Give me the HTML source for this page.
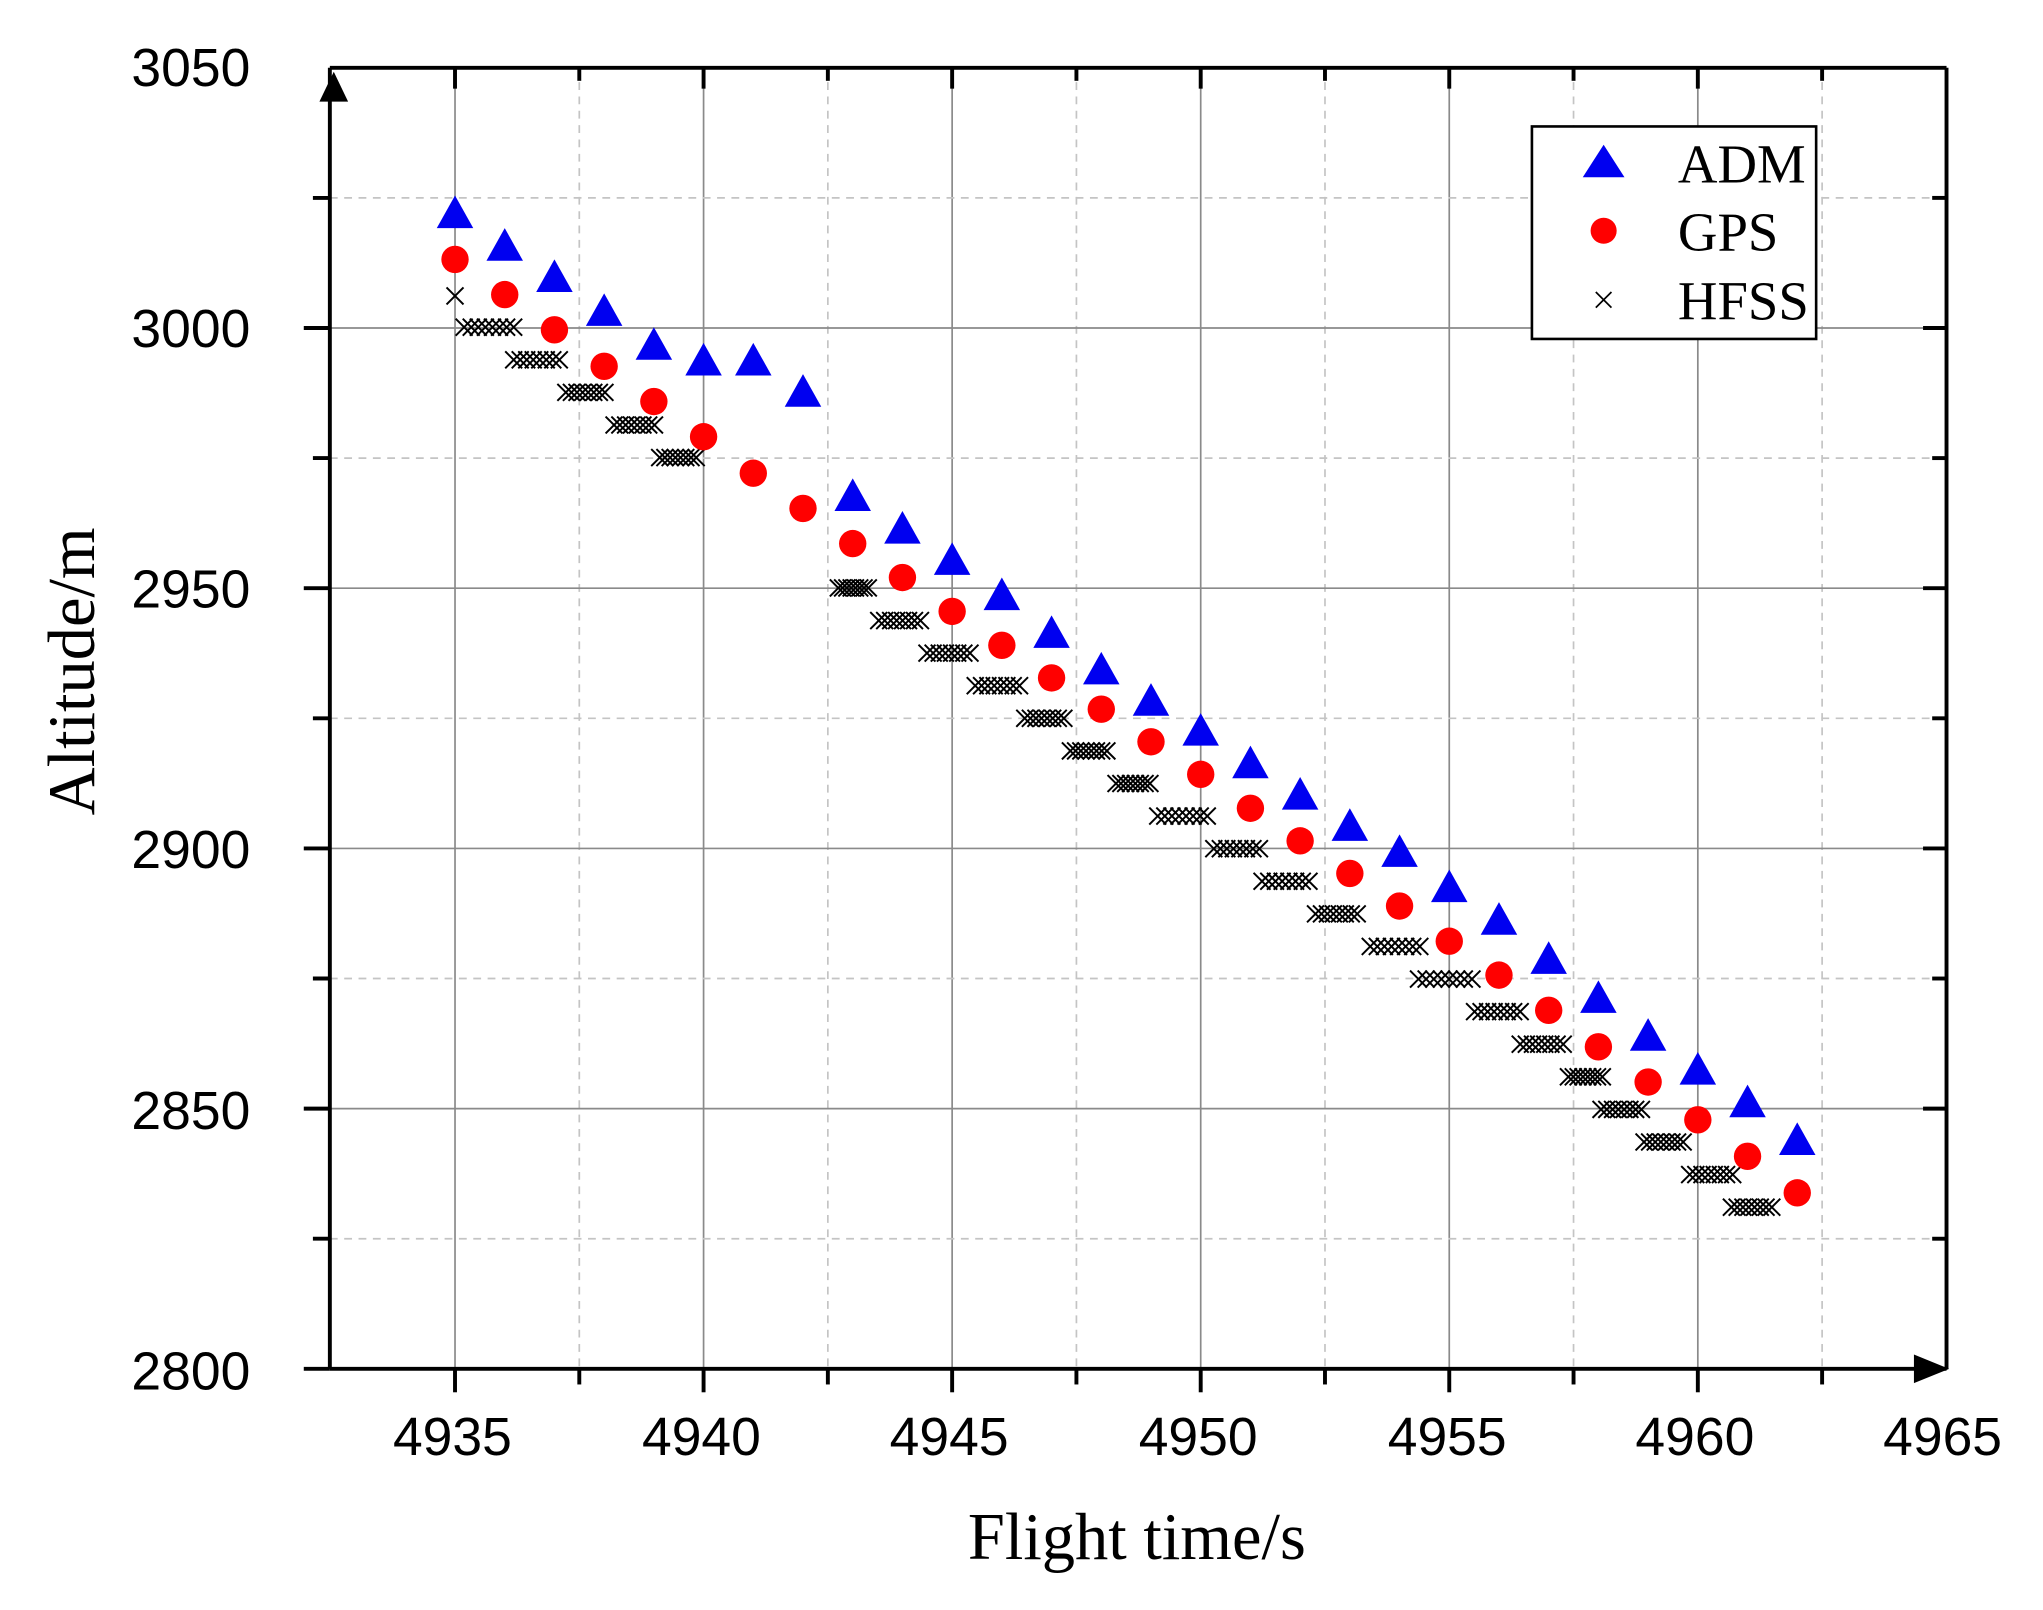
<!DOCTYPE html>
<html><head><meta charset="utf-8"><style>html,body{margin:0;padding:0;background:#fff}svg{display:block}</style></head>
<body>
<svg id="s" width="2043" height="1610" viewBox="0 0 1567 1235" preserveAspectRatio="none" xmlns="http://www.w3.org/2000/svg">
<rect width="1567" height="1235" fill="#fff"/>
<g id="grid"></g>
<g id="data"></g>
<g stroke="#000" stroke-width="3" fill="none">
<line x1="253" y1="52" x2="1493" y2="52"/>
<line x1="253" y1="52" x2="253" y2="1050"/>
<line x1="253" y1="1050" x2="1493" y2="1050"/>
<line x1="1493" y1="52" x2="1493" y2="1050"/>
</g>
<g id="ticks" stroke="#000" stroke-width="3"></g>
<polygon points="256,55 245,78 267,78" fill="#000"/>
<polygon points="1495,1050 1468,1039 1468,1061" fill="#000"/>
<g font-family="Liberation Sans, Arial, sans-serif" font-size="41" fill="#000" text-anchor="end">
<text x="192" y="66">3050</text>
<text x="192" y="266">3000</text>
<text x="192" y="466">2950</text>
<text x="192" y="666">2900</text>
<text x="192" y="866">2850</text>
<text x="192" y="1066">2800</text>
</g>
<g font-family="Liberation Sans, Arial, sans-serif" font-size="41" fill="#000" text-anchor="middle">
<text x="347" y="1116">4935</text>
<text x="538" y="1116">4940</text>
<text x="728" y="1116">4945</text>
<text x="919" y="1116">4950</text>
<text x="1110" y="1116">4955</text>
<text x="1300" y="1116">4960</text>
<text x="1490" y="1116">4965</text>
</g>
<text x="872" y="1196" font-family="Liberation Serif, Times New Roman, serif" font-size="51" text-anchor="middle">Flight time/s</text>
<text transform="translate(72,515) rotate(-90)" font-family="Liberation Serif, Times New Roman, serif" font-size="51" text-anchor="middle">Altitude/m</text>
<rect x="1175" y="97" width="218" height="163" fill="#fff" stroke="#000" stroke-width="2"/>
<polygon points="1230,111 1214,136 1246,136" fill="#0000f0"/>
<circle cx="1230" cy="177" r="10" fill="#f00"/>
<g stroke="#000" stroke-width="1.3"><line x1="1224" y1="224" x2="1236" y2="236"/><line x1="1236" y1="224" x2="1224" y2="236"/></g>
<g font-family="Liberation Serif, Times New Roman, serif" font-size="42" fill="#000">
<text x="1287" y="140">ADM</text>
<text x="1287" y="192">GPS</text>
<text x="1287" y="245">HFSS</text>
</g>
</svg>
<script>
var NS="http://www.w3.org/2000/svg";
function el(p,t,a){var e=document.createElementNS(NS,t);for(var k in a)e.setAttribute(k,a[k]);document.getElementById(p).appendChild(e);return e;}
function X(t){return 349+(t-4935)*38.13;}
function Y(v){return 52+(3050-v)*3.992;}
for(var t=4932.5;t<=4965;t+=2.5){var x=X(t);if(x<=254||x>=1492)continue;var maj=(Math.abs((t-4935)%5)<0.01);
el("grid","line",{x1:x,y1:52,x2:x,y2:1050,stroke:maj?"#8a8a8a":"#c4c4c4","stroke-width":1.3,"stroke-dasharray":maj?"":"6,5"});
el("ticks","line",{x1:x,y1:1050,x2:x,y2:maj?1068:1062});
el("ticks","line",{x1:x,y1:52,x2:x,y2:maj?68:62});}
for(var v=2825;v<3050;v+=25){var y=Y(v);var maj=(v%50==0);
el("grid","line",{x1:253,y1:y,x2:1493,y2:y,stroke:maj?"#8a8a8a":"#c4c4c4","stroke-width":1.3,"stroke-dasharray":maj?"":"6,5"});
el("ticks","line",{x1:maj?233:240,y1:y,x2:253,y2:y});
el("ticks","line",{x1:maj?1475:1482,y1:y,x2:1493,y2:y});}
el("ticks","line",{x1:233,y1:1050,x2:253,y2:1050});
el("data","g",{id:"hf",stroke:"#000","stroke-width":"1.5"});
function xm(cx,cy){el("hf","line",{x1:cx-6.5,y1:cy-6.5,x2:cx+6.5,y2:cy+6.5});el("hf","line",{x1:cx+6.5,y1:cy-6.5,x2:cx-6.5,y2:cy+6.5});}
xm(349,227);
var cl=[[350,400,251],[388,435,276],[428,470,301],[465,508,326],[500,540,351],[637,672,451],[668,712,476],[705,750,501],[742,788,526],[780,822,551],[815,855,576],[850,888,601],[882,932,626],[925,972,651],[962,1010,676],[1003,1047,701],[1045,1095,726],[1082,1135,751],[1125,1172,776],[1160,1205,801],[1197,1235,826],[1222,1265,851],[1255,1297,876],[1290,1335,901],[1322,1365,926]];
cl.forEach(function(c){var a=c[0]+6,b=c[1]-6,n=8;for(var i=0;i<n;i++)xm(a+(b-a)*i/(n-1),c[2]);});
var g=[199,226,253,281,308,335,363,390,417,443,469,495,520,544,569,594,620,645,670,695,722,748,775,803,830,859,887,915];
g.forEach(function(y,i){el("data","circle",{cx:X(4935+i),cy:y,r:10.5,fill:"#f00"});});
var a=[165,190,214,240,266,278,278,302,382,407,431,458,487,515,539,562,587,611,635,655,682,707,737,767,796,822,847,876];
a.forEach(function(y,i){var x=X(4935+i);el("data","polygon",{points:(x)+","+(y-15)+" "+(x-14)+","+(y+10)+" "+(x+14)+","+(y+10),fill:"#0000f0"});});
</script>
</body></html>
